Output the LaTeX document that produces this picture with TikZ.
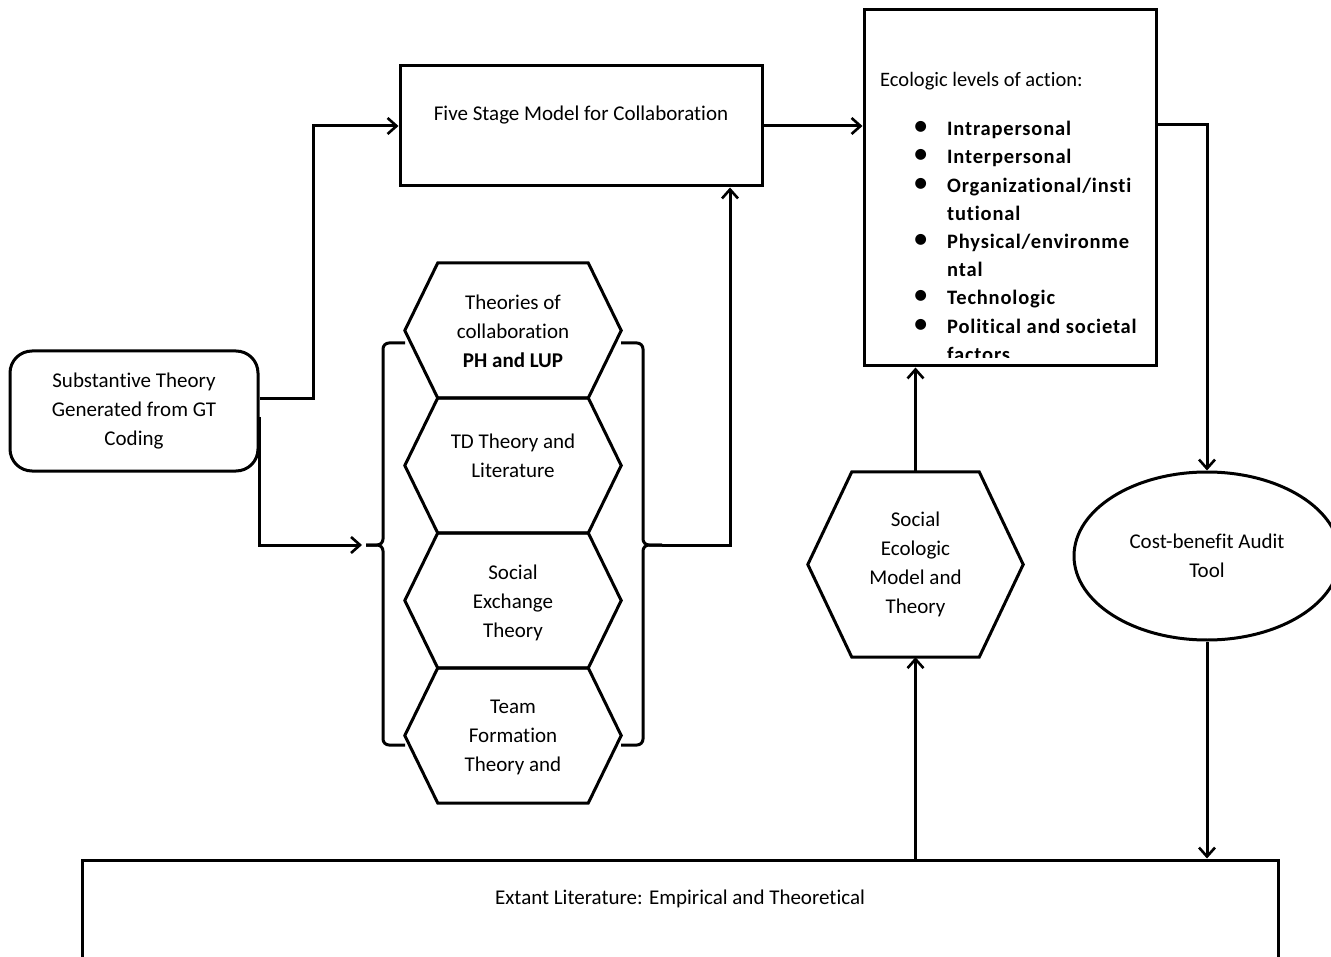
\documentclass[tikz,border=0pt]{standalone}
\usepackage{fontspec}
\setmainfont{Carlito}[Ligatures=NoCommon]
\newfontfamily\itemfont{Carlito}[Ligatures=NoCommon, BoldFont={Carlito Bold}, LetterSpace=4]
\usetikzlibrary{arrows.meta,shapes.geometric,calc}
% outline of a flat-topped hexagon over a rectangular node: #1 node, #2 inset of the top edge
\newcommand\drawhexcell[2]{%
  \draw[line, line join=miter]
    ($(#1.north west)+(#2,0)$) -- ($(#1.north east)+(-#2,0)$) -- (#1.east)
    -- ($(#1.south east)+(-#2,0)$) -- ($(#1.south west)+(#2,0)$) -- (#1.west) -- cycle;}
% one bullet line and one continuation line of the ecologic list
\newcommand\ecoitem[1]{\hspace*{33pt}\makebox[34pt][l]{\scalebox{1.5}{\textbullet}}{\itemfont\bfseries #1}}
\newcommand\ecocont[1]{\hspace*{67pt}{\itemfont\bfseries #1}}
\begin{document}
\begin{tikzpicture}[x=1pt,y=-1pt,
  line/.style={line width=3pt},
  conn/.style={line, -{Straight Barb[length=9pt,width=16pt,line width=2.6pt]}},
  box/.style={draw, line width=3pt, inner sep=0pt},
  txt/.style={font=\fontsize{21}{29}\selectfont, align=center, inner sep=0pt},
  hexcell/.style={inner sep=0pt, minimum width=216pt, minimum height=135pt},
]
\useasboundingbox (0,0) rectangle (1331,957);

% ---- boxes -------------------------------------------------------------
\node[box, rounded corners=22pt, minimum width=248pt, minimum height=120pt, txt]
  (sub) at (134,411) {Substantive Theory\\Generated from GT\\Coding};
\node[box, minimum width=362pt, minimum height=120pt] (five) at (581,126) {};
\node[txt] at ($(five.center)+(0,-11)$) {Five Stage Model for Collaboration};

\node[box, minimum width=292pt, minimum height=356pt] (eco) at (1010,188) {};
\begin{scope}
  \clip (eco.north west) rectangle ([yshift=10pt]eco.south east);
  \node[txt, align=left, anchor=north west, font=\fontsize{20.5}{28.2}\selectfont]
    (ecotext) at (880,72) {Ecologic levels of action:\\[21pt]
    \ecoitem{Intrapersonal}\\
    \ecoitem{Interpersonal}\\
    \ecoitem{Organizational/insti}\\
    \ecocont{tutional}\\
    \ecoitem{Physical/environme}\\
    \ecocont{ntal}\\
    \ecoitem{Technologic}\\
    \ecoitem{Political and societal}\\
    \ecocont{factors}};
\end{scope}

\node[draw, ellipse, line, minimum width=266pt, minimum height=168pt, txt]
  (cba) at (1207,556) {Cost-benefit Audit\\Tool};

\node[box, minimum width=1196pt, minimum height=130pt] (ext) at (680,925) {};
\node[txt] at (680,899) {Extant Literature: Empirical and Theoretical};

% ---- stacked theory hexagons ----------------------------------------------
\node[hexcell] (h1) at (513,330.5) {};
\node[hexcell] (h2) at (513,465.5) {};
\node[hexcell] (h3) at (513,600.5) {};
\node[hexcell] (h4) at (513,735.5) {};
\foreach \h in {h1,h2,h3,h4} {\drawhexcell{\h}{33}}
\node[txt] at ($(h1.center)+(0,1)$) {Theories of\\collaboration\\\textbf{PH and LUP}};
\node[txt] at ($(h2.center)+(0,-10)$) {TD Theory and\\Literature};
\node[txt] at ($(h3.center)+(0,2)$) {Social\\Exchange\\Theory};
\node[txt] at ($(h4.center)+(0,2)$) {Team\\Formation\\Theory and};

% ---- braces around the stack ---------------------------------------------
\coordinate (lbtip) at (366,545);
\coordinate (rbtip) at (662,545);
\draw[line, rounded corners=6pt] (405,343) -- (383,343) -- (383,545) -- (lbtip);
\draw[line, rounded corners=6pt] (405,745) -- (383,745) -- (383,545) -- (lbtip);
\draw[line, rounded corners=6pt] (621,343) -- (643,343) -- (643,545) -- (rbtip);
\draw[line, rounded corners=6pt] (621,745) -- (643,745) -- (643,545) -- (rbtip);

% ---- social ecologic hexagon --------------------------------------------
\node[inner sep=0pt, minimum width=215pt, minimum height=185pt] (seh) at (915.5,564.5) {};
\drawhexcell{seh}{44}
\node[txt] at (seh.center) {Social\\Ecologic\\Model and\\Theory};

% ---- connectors --------------------------------------------------------
\draw[conn] ([yshift=12pt]sub.east) -- ++(54,0) |- (five.west);
\draw[conn] ([yshift=-6pt]sub.east) |- ([xshift=-4pt]lbtip);
\draw[conn] (rbtip) -| ([xshift=149pt]five.south);
\draw[conn] (five.east) -- (five.east -| eco.west);
\draw[conn] ([yshift=63pt]eco.east) -| (cba.north);
\draw[conn] (cba.south) -- (cba.south |- ext.north);
\draw[conn] (seh.north) -- (seh.north |- eco.south);
\draw[conn] (ext.north -| seh.south) -- (seh.south);
\end{tikzpicture}
\end{document}
